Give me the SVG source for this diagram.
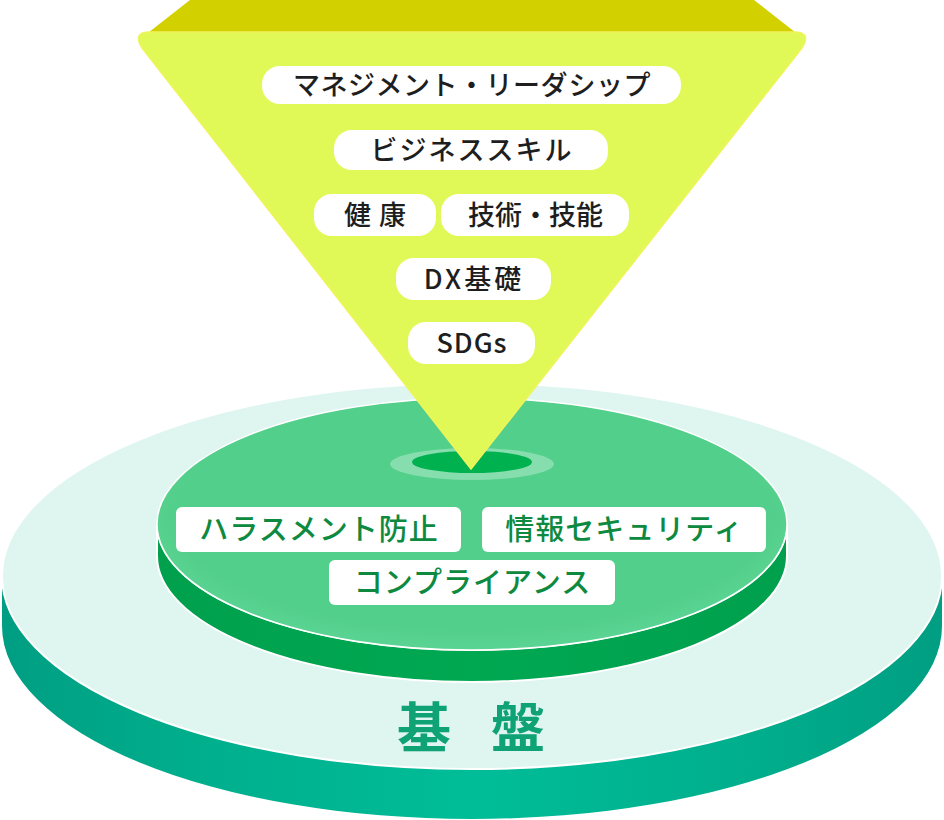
<svg xmlns="http://www.w3.org/2000/svg" width="944" height="820" viewBox="0 0 944 820">
<defs>
<linearGradient id="tealSide" x1="0" y1="0" x2="1" y2="0">
<stop offset="0" stop-color="#009e82"/>
<stop offset="0.2" stop-color="#00ae8c"/>
<stop offset="0.5" stop-color="#00bd98"/>
<stop offset="0.8" stop-color="#00ae8c"/>
<stop offset="1" stop-color="#009e82"/>
</linearGradient>
<linearGradient id="greenSide" x1="0" y1="0" x2="1" y2="0">
<stop offset="0" stop-color="#00a04d"/>
<stop offset="0.5" stop-color="#00a852"/>
<stop offset="1" stop-color="#00a04d"/>
</linearGradient>
<radialGradient id="greenFace" cx="0.5" cy="0.45" r="0.55">
<stop offset="0.85" stop-color="#52cf8a"/>
<stop offset="1" stop-color="#5bd493"/>
</radialGradient>
</defs>
<style>
.ypill{fill:#ffffff}
.gpill{fill:#ffffff}
.ytxt{font-family:"Noto Sans CJK JP","Noto Sans",sans-serif;font-size:27px;font-weight:500;fill:#1e1e1e;text-anchor:middle}
.gtxt{font-family:"Noto Sans CJK JP","Noto Sans",sans-serif;font-size:29px;font-weight:500;fill:#0d8a40;text-anchor:middle;letter-spacing:1px}
.btxt{font-family:"Noto Sans CJK JP","Noto Sans",sans-serif;font-size:54px;font-weight:700;fill:#0fa274}
</style>

<g id="base-disk">
<path d="M2,576 L2,626 A470,193 0 0 0 942,626 L942,576 A470,193 0 0 1 2,576 Z" fill="url(#tealSide)"/>
<ellipse cx="472" cy="576" rx="470" ry="193" fill="#dff5f0" stroke="#ffffff" stroke-width="2"/>
<text class="btxt" x="397" y="748" letter-spacing="40">基盤</text>
</g>

<g id="core-disk">
<path d="M157,524 L157,556 A315,126 0 0 0 787,556 L787,524 A315,126 0 0 1 157,524 Z" fill="url(#greenSide)" stroke="#ffffff" stroke-width="2"/>
<ellipse cx="472" cy="524" rx="315" ry="126" fill="url(#greenFace)" stroke="#ffffff" stroke-width="1.5"/>
<ellipse cx="472" cy="464" rx="82" ry="16" fill="#ffffff" fill-opacity="0.3"/>
<ellipse cx="472" cy="462" rx="60" ry="11" fill="#00b24f"/>
</g>

<g id="funnel">
<path d="M190,0 L754,0 L800,36 L144,36 Z" fill="#d3d000"/>
<path d="M150,32 L794,32 Q812,32 802,48 L471,469 L142,48 Q132,32 150,32 Z" fill="#e1f956" stroke="#eef45a" stroke-width="1.5"/>
</g>

<g id="pill-management">
<rect class="ypill" x="262" y="66" width="419" height="38" rx="18"/>
<text class="ytxt" x="472" y="95" letter-spacing="0.5">マネジメント・リーダシップ</text>
</g>
<g id="pill-business">
<rect class="ypill" x="334" y="130" width="274" height="40" rx="18"/>
<text class="ytxt" x="472" y="160" letter-spacing="2">ビジネススキル</text>
</g>
<g id="pill-health">
<rect class="ypill" x="314" y="194" width="122" height="42" rx="18"/>
<text class="ytxt" x="379" y="225" letter-spacing="8">健康</text>
</g>
<g id="pill-tech">
<rect class="ypill" x="441" y="194" width="188" height="42" rx="18"/>
<text class="ytxt" x="535.5" y="225" letter-spacing="0">技術・技能</text>
</g>
<g id="pill-dx">
<rect class="ypill" x="396" y="258" width="155" height="42" rx="18"/>
<text class="ytxt" x="474" y="289" letter-spacing="3">DX基礎</text>
</g>
<g id="pill-sdgs">
<rect class="ypill" x="408" y="322" width="127" height="42" rx="18"/>
<text class="ytxt" x="472" y="353" letter-spacing="1" font-size="28">SDGs</text>
</g>

<g id="pill-harassment">
<rect class="gpill" x="176" y="507" width="285" height="45" rx="6"/>
<text class="gtxt" x="319" y="540">ハラスメント防止</text>
</g>
<g id="pill-security">
<rect class="gpill" x="482" y="507" width="284" height="45" rx="6"/>
<text class="gtxt" x="624.5" y="540">情報セキュリティ</text>
</g>
<g id="pill-compliance">
<rect class="gpill" x="329" y="560" width="286" height="45" rx="6"/>
<text class="gtxt" x="472.5" y="593">コンプライアンス</text>
</g>
</svg>
